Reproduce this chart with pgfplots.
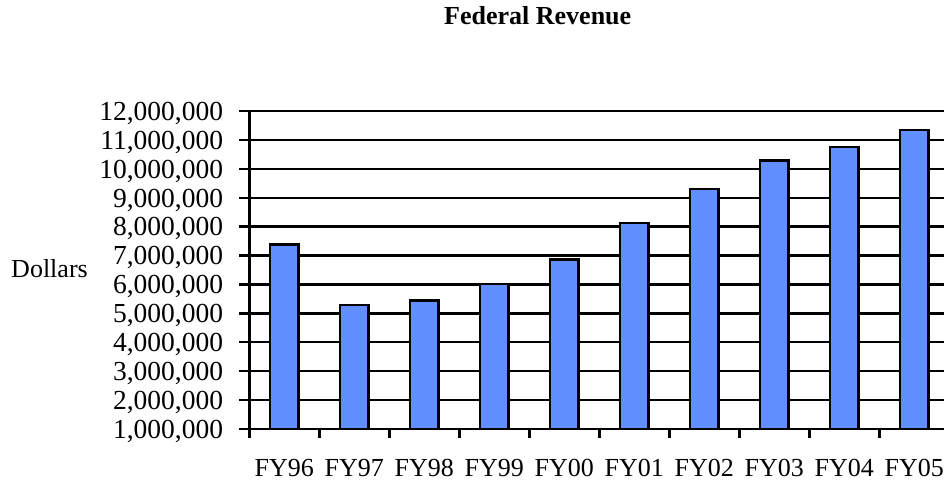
\documentclass[border=0pt]{standalone}
\usepackage{pgfplots}
\pgfplotsset{compat=1.18}
\usepackage{fontspec}
\setmainfont{Liberation Serif}
\definecolor{barblue}{RGB}{98,143,255}
\begin{document}
\fontsize{26}{31}\selectfont
\begin{tikzpicture}
\useasboundingbox (0,0) rectangle (944pt,485pt);
\begin{axis}[
  at={(249.3pt,56pt)}, anchor=south west,
  scale only axis, width=694.7pt, height=318pt,
  xmin=-0.5, xmax=9.424, ymin=1000000, ymax=12000000,
  ytick={1000000,2000000,3000000,4000000,5000000,6000000,7000000,8000000,9000000,10000000,11000000,12000000},
  scaled y ticks=false,
  /pgf/number format/fixed, /pgf/number format/precision=0,
  /pgf/number format/1000 sep={,}, /pgf/number format/assume math mode=true,
  axis x line*=bottom, axis y line*=left,
  axis line style={-, line width=2.8pt, black},
  ymajorgrids, major grid style={black, line width=2.4pt},
  xtick={0,1,2,3,4,5,6,7,8,9},
  xticklabels={FY96,FY97,FY98,FY99,FY00,FY01,FY02,FY03,FY04,FY05},
  minor xtick={-0.5,0.5,1.5,2.5,3.5,4.5,5.5,6.5,7.5,8.5},
  major x tick style={draw=none},
  tick align=outside, major tick length=10pt, minor tick length=9pt,
  tick style={black, line width=2.4pt},
  tick label style={font=\fontsize{26}{31}\selectfont},
  xticklabel style={anchor=base, inner sep=0pt, yshift=-37pt},
  yticklabel style={font=\fontsize{27.5}{32}\selectfont, anchor=base east, inner sep=0pt, xshift=-16pt, yshift=-9.3pt},
]
\addplot[ybar, bar width=28.7pt, fill=barblue, draw=black, line width=2.4pt]
  coordinates {(0,7380000) (1,5290000) (2,5440000) (3,6010000) (4,6860000)
               (5,8120000) (6,9300000) (7,10290000) (8,10750000) (9,11340000)};
\end{axis}
\node[font=\bfseries\fontsize{26}{31}\selectfont, anchor=base] at (537.7pt,460pt) {Federal Revenue};
\node[anchor=base] at (49.5pt,207.3pt) {Dollars};
\end{tikzpicture}
\end{document}
